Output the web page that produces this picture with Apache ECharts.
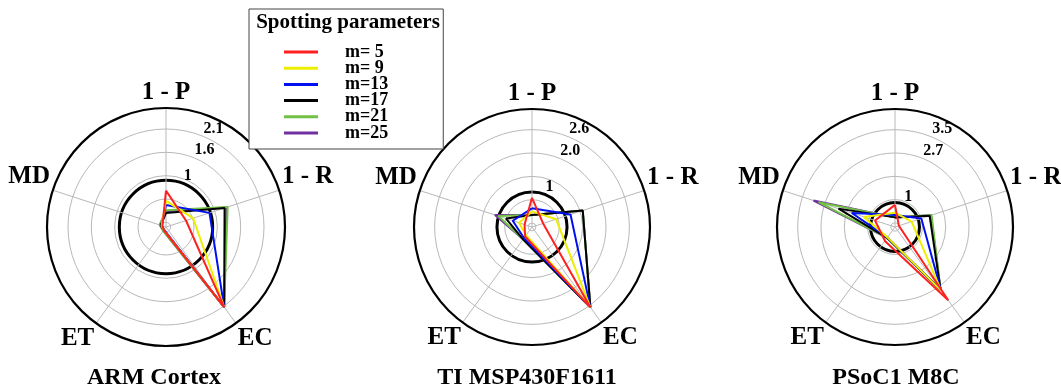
<!DOCTYPE html>
<html><head><meta charset="utf-8">
<script src="https://cdn.jsdelivr.net/npm/echarts@6/dist/echarts.min.js"></script>
<style>html,body{margin:0;padding:0;background:#fff}#c{width:1061px;height:390px}</style>
</head><body><div id="c"></div><script>
// ---- data ----
const categories = ['1 - P', '1 - R', 'EC', 'ET', 'MD'];
const seriesNames = ['m= 5', 'm= 9', 'm=13', 'm=17', 'm=21', 'm=25'];
const seriesColors = ['#ff2020', '#eeee00', '#0010f0', '#000000', '#72c044', '#7030a0'];
const platforms = ['ARM Cortex', 'TI MSP430F1611', 'PSoC1 M8C'];
const legendTitle = 'Spotting parameters';

// radial axis ranges, grid rings and labelled radii per platform
const radialMin = [0, 0.1, 0.16];
const radialMax = [2.55, 3.13, 4.21];
const ringValues = [[0.1, 0.6, 1.1, 1.6, 2.1], [0.2, 0.8, 1.4, 2.0, 2.6], [0.3, 1.1, 1.9, 2.7, 3.5]];
const referenceRing = 1;
const tickLabelValues = [[1, 1.6, 2.1], [1, 2.0, 2.6], [1, 2.7, 3.5]];
const tickLabelTexts = [['1', '1.6', '2.1'], ['1', '2.0', '2.6'], ['1', '2.7', '3.5']];

// values per series, order: 1-P, 1-R, EC, ET, MD
const arm_m5  = [0.78, 0.45, 2.12, 0.08, 0.08];
const arm_m9  = [0.56, 0.61, 2.12, 0.08, 0.10];
const arm_m13 = [0.47, 0.98, 2.12, 0.07, 0.10];
const arm_m17 = [0.30, 1.32, 2.12, 0.08, 0.12];
const arm_m21 = [0.36, 1.39, 2.12, 0.10, 0.14];
const arm_m25 = [0.34, 1.36, 2.12, 0.10, 0.14];

const msp_m5  = [0.85, 0.40, 2.65, 0.40, 0.30];
const msp_m9  = [0.50, 0.75, 2.65, 0.36, 0.45];
const msp_m13 = [0.58, 1.14, 2.65, 0.45, 0.62];
const msp_m17 = [0.41, 1.47, 2.65, 0.49, 0.80];
const msp_m21 = [0.41, 1.47, 2.65, 0.49, 1.01];
const msp_m25 = [0.41, 1.47, 2.65, 0.49, 1.10];

const psoc_m5  = [0.92, 0.30, 3.27, 0.75, 0.88];
const psoc_m9  = [0.65, 0.76, 2.85, 0.60, 1.28];
const psoc_m13 = [0.57, 1.11, 2.85, 0.60, 1.72];
const psoc_m17 = [0.49, 1.41, 2.82, 0.62, 2.20];
const psoc_m21 = [0.49, 1.48, 2.82, 0.62, 2.92];
const psoc_m25 = [0.49, 1.46, 2.82, 0.62, 3.10];

const platformData = [
  [arm_m5, arm_m9, arm_m13, arm_m17, arm_m21, arm_m25],
  [msp_m5, msp_m9, msp_m13, msp_m17, msp_m21, msp_m25],
  [psoc_m5, psoc_m9, psoc_m13, psoc_m17, psoc_m21, psoc_m25]
];

// ---- layout / style ----
const FONT = '"Liberation Serif", "Times New Roman", serif';
const layout = [{cx: 166, cy: 227, r: 119, tx: 154}, {cx: 532, cy: 227, r: 118, tx: 527}, {cx: 895, cy: 227, r: 118, tx: 896}];
const GRID = '#b8b8b8';

const polar = [], angleAxis = [], radiusAxis = [], series = [], title = [];
layout.forEach((L) => polar.push({center: [L.cx, L.cy], radius: L.r}));
layout.forEach((L) => polar.push({center: [L.cx, L.cy], radius: L.r}));

for (let p = 0; p < 3; p++) {
  angleAxis.push({
    polarIndex: p, type: 'category', data: categories, startAngle: 126, clockwise: true, boundaryGap: true,
    axisLine: {show: true, lineStyle: {color: '#000', width: 2.2}},
    axisTick: {show: false, alignWithLabel: true},
    axisLabel: {show: true, margin: 3, color: '#000', fontFamily: FONT, fontWeight: 'bold', fontSize: 25},
    splitLine: {show: true, lineStyle: {color: GRID, width: 1}}
  });
  radiusAxis.push({
    polarIndex: p, type: 'value', min: radialMin[p], max: radialMax[p],
    axisLine: {show: false},
    axisTick: {show: false, customValues: ringValues[p]},
    axisLabel: {show: false},
    splitLine: {show: true, lineStyle: {color: GRID, width: 1}}
  });
}
for (let p = 0; p < 3; p++) {
  angleAxis.push({polarIndex: 3 + p, type: 'value', min: 0, max: 360, startAngle: 67.5, show: false});
  radiusAxis.push({
    polarIndex: 3 + p, type: 'value', min: radialMin[p], max: radialMax[p],
    axisLine: {show: false},
    axisTick: {show: false, customValues: [referenceRing]},
    splitLine: {show: true, lineStyle: {color: '#000', width: 3}},
    axisLabel: {
      show: true, customValues: tickLabelValues[p], margin: 0,
      align: 'left', verticalAlign: 'bottom',
      formatter: (v) => { const i = tickLabelValues[p].findIndex(t => Math.abs(t - v) < 1e-9); return i >= 0 ? tickLabelTexts[p][i] : ''; },
      color: '#000', fontFamily: FONT, fontWeight: 'bold', fontSize: 16
    }
  });
}

const drawOrder = [5, 4, 3, 2, 1, 0];
for (let p = 0; p < 3; p++) {
  drawOrder.forEach((s) => {
    const vals = platformData[p][s];
    const pts = categories.map((c, k) => [vals[k], c]);
    pts.push([vals[0], categories[0]]);
    series.push({
      type: 'line', coordinateSystem: 'polar', polarIndex: p, name: seriesNames[s],
      data: pts, symbol: 'none', silent: true,
      lineStyle: {color: seriesColors[s], width: 2},
      itemStyle: {color: seriesColors[s]}
    });
  });
  title.push({
    text: platforms[p], left: layout[p].tx, top: 366, textAlign: 'center', padding: 0,
    textStyle: {fontFamily: FONT, fontWeight: 'bold', fontSize: 24, color: '#000'}
  });
}
title.push({
  text: legendTitle, left: 348, top: 12, textAlign: 'center', padding: 0, z: 20,
  textStyle: {fontFamily: FONT, fontWeight: 'bold', fontSize: 21, color: '#000'}
});

const chart = echarts.init(document.getElementById('c'), null, {renderer: 'canvas'});
chart.setOption({
  animation: false,
  backgroundColor: '#fff',
  title: title,
  polar: polar,
  angleAxis: angleAxis,
  radiusAxis: radiusAxis,
  legend: {
    data: seriesNames, orient: 'vertical', left: 249, top: 9, icon: 'rect',
    itemWidth: 34, itemHeight: 3, itemGap: -1.8, padding: [34, 55, 7, 35],
    backgroundColor: '#fff', borderColor: '#444', borderWidth: 1, selectedMode: false, z: 10,
    textStyle: {fontFamily: FONT, fontWeight: 'bold', fontSize: 18, color: '#000', lineHeight: 16, padding: [0, 0, 0, 22]}
  },
  series: series
});
</script></body></html>
